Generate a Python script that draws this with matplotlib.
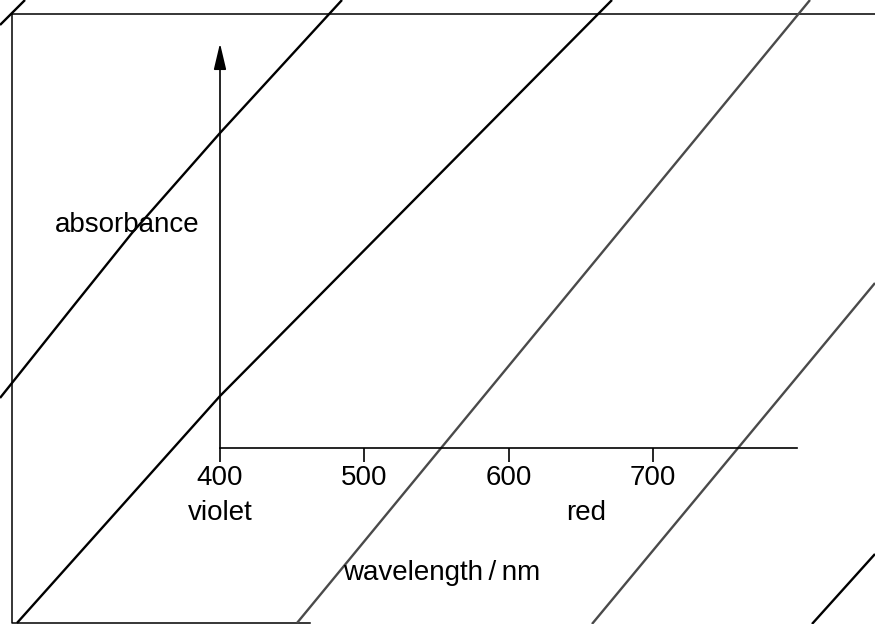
import matplotlib
matplotlib.use('Agg')
import matplotlib.pyplot as plt

plt.rcParams['font.family'] = ['Liberation Sans', 'DejaVu Sans']

# axis data
wl_ticks = [400, 500, 600, 700]
wl_labels = ['400', '500', '600', '700']
x_range = [400, 800]
colour_ends = ['violet', 'red']
colour_pos = [400, 654]
x_title = 'wavelength\u2009/\u2009nm'
y_title = 'absorbance'

# scan artefacts (page pixels): diagonal stripes and page frame
stripe_x = [[0, 25], [0, 75, 132, 220, 342], [17, 220, 612], [297, 810], [592, 875], [812, 875]]
stripe_y = [[25, 0], [398, 304, 233, 133, 0], [623, 396, 0], [623, 0], [624, 283], [624, 554]]
stripe_col = ['black', 'black', 'black', '#4a4a4a', '#4a4a4a', 'black']
frame_x = [310, 12, 12, 875]
frame_y = [623, 623, 14, 14]

fig = plt.figure(figsize=(8.75, 6.24), dpi=100)

bg = fig.add_axes([0, 0, 1, 1], zorder=0)
bg.set_xlim(0, 875)
bg.set_ylim(624, 0)
bg.axis('off')
bg.plot(frame_x, frame_y, color='black', lw=1.1)
for xs, ys, c in zip(stripe_x, stripe_y, stripe_col):
    bg.plot(xs, ys, color=c, lw=1.7, solid_capstyle='butt')

W, H = 875, 624
ax = fig.add_axes([220 / W, 1 - 448 / H, 577 / W, 403 / H], zorder=1)
ax.patch.set_alpha(0)
ax.set_xlim(*x_range)
ax.set_ylim(0, 1)
for s in ['top', 'right', 'left']:
    ax.spines[s].set_visible(False)
ax.spines['bottom'].set_linewidth(1.2)
ax.set_xticks(wl_ticks)
ax.set_xticklabels(wl_labels)
ax.set_yticks([])
ax.tick_params(axis='x', direction='out', length=10, width=1.2, pad=2.5, labelsize=20)

ax.annotate('', xy=(0, 1.004), xytext=(0, 0), xycoords='axes fraction',
            arrowprops=dict(arrowstyle='-|>,head_length=1.6,head_width=0.38',
                            color='black', lw=1.2, shrinkA=0, shrinkB=0))

for lab, x in zip(colour_ends, colour_pos):
    ax.text(x, -0.161, lab, transform=ax.get_xaxis_transform(),
            ha='center', va='center', fontsize=20)
ax.text(554, -0.31, x_title, transform=ax.get_xaxis_transform(),
        ha='center', va='center', fontsize=20)
ax.text(-0.161, 0.553, y_title, transform=ax.transAxes,
        ha='center', va='center', fontsize=20)

fig.savefig('out.png', dpi=100)
